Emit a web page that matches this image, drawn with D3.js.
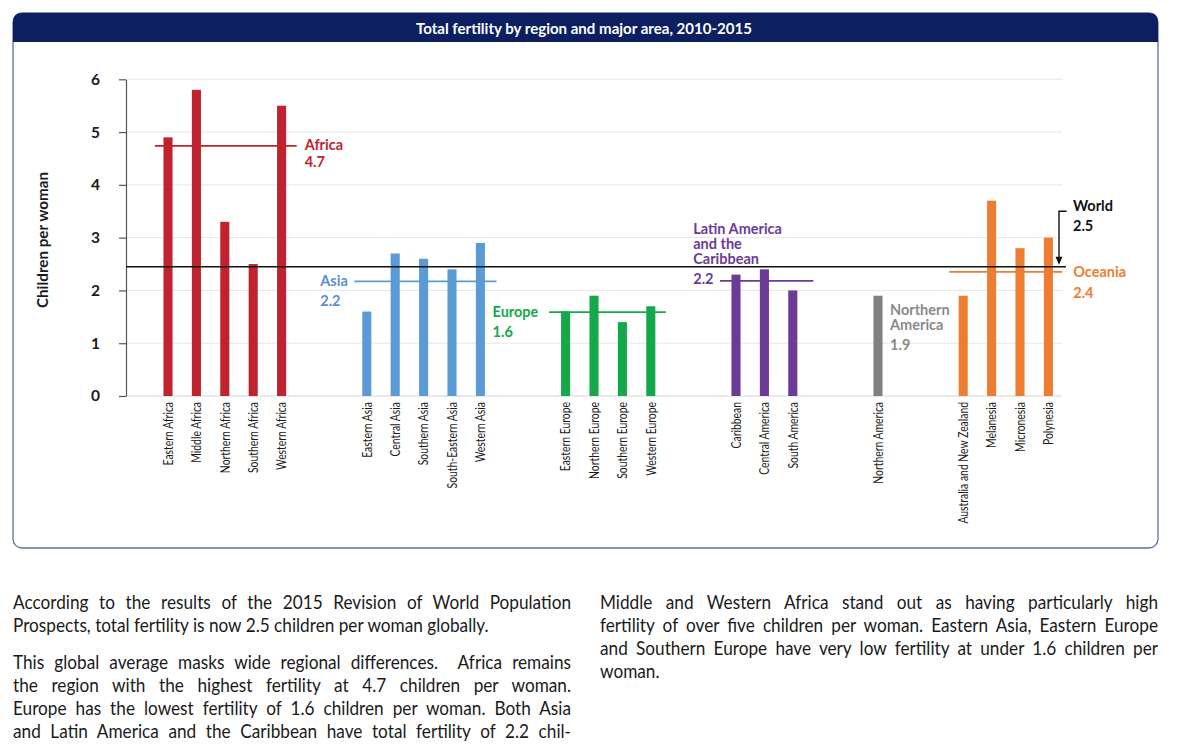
<!DOCTYPE html>
<html>
<head>
<meta charset="utf-8">
<script src="https://cdn.jsdelivr.net/npm/d3@7"></script>
<style>
  html, body { margin: 0; padding: 0; background: #fff; }
  svg { display: block; }
</style>
</head>
<body>
<svg id="chart" width="1200" height="750"></svg>
<script>
// ---------------- DATA ----------------
const title = "Total fertility by region and major area, 2010-2015";
const yAxisTitle = "Children per woman";
const yTicks = [0, 1, 2, 3, 4, 5, 6];

const categories = [
  "Eastern Africa", "Middle Africa", "Northern Africa", "Southern Africa", "Western Africa",
  "Eastern Asia", "Central Asia", "Southern Asia", "South-Eastern Asia", "Western Asia",
  "Eastern Europe", "Northern Europe", "Southern Europe", "Western Europe",
  "Caribbean", "Central America", "South America",
  "Northern America",
  "Australia and New Zealand", "Melanesia", "Micronesia", "Polynesia"
];
const categoryGroup = [
  "Africa", "Africa", "Africa", "Africa", "Africa",
  "Asia", "Asia", "Asia", "Asia", "Asia",
  "Europe", "Europe", "Europe", "Europe",
  "Latin America and the Caribbean", "Latin America and the Caribbean", "Latin America and the Caribbean",
  "Northern America",
  "Oceania", "Oceania", "Oceania", "Oceania"
];
const fertility = [
  4.9, 5.8, 3.3, 2.5, 5.5,
  1.6, 2.7, 2.6, 2.4, 2.9,
  1.6, 1.9, 1.4, 1.7,
  2.3, 2.4, 2.0,
  1.9,
  1.9, 3.7, 2.8, 3.0
];

const groups = ["Africa", "Asia", "Europe", "Latin America and the Caribbean", "Northern America", "Oceania"];
const groupLabelLines = [["Africa"], ["Asia"], ["Europe"], ["Latin America", "and the", "Caribbean"], ["Northern", "America"], ["Oceania"]];
const groupAverage = [4.74, 2.17, 1.59, 2.18, 1.9, 2.35];
const groupAverageLabel = ["4.7", "2.2", "1.6", "2.2", "1.9", "2.4"];
const groupHasLine = [true, true, true, true, false, true];

const worldName = "World";
const worldAverage = 2.45;
const worldAverageLabel = "2.5";

const leftColumnParagraphs = [
  ["According to the results of the 2015 Revision of World Population",
   "Prospects, total fertility is now 2.5 children per woman globally."],
  ["This global average masks wide regional differences.  Africa remains",
   "the region with the highest fertility at 4.7 children per woman.",
   "Europe has the lowest fertility of 1.6 children per woman. Both Asia",
   "and Latin America and the Caribbean have total fertility of 2.2 chil-"]
];
const leftParagraphEnds = [true, false];
const rightColumnParagraphs = [
  ["Middle and Western Africa stand out as having particularly high",
   "fertility of over five children per woman. Eastern Asia, Eastern Europe",
   "and Southern Europe have very low fertility at under 1.6 children per",
   "woman."]
];
const rightParagraphEnds = [true];

// ---------------- STYLE / LAYOUT ----------------
const groupColor = {
  "Africa": "#c1232e",
  "Asia": "#5b9bd5",
  "Europe": "#14a84a",
  "Latin America and the Caribbean": "#6c3a97",
  "Northern America": "#808080",
  "Oceania": "#ee7d31"
};
const groupTextColor = {
  "Africa": "#c1232e",
  "Asia": "#5b8fd0",
  "Europe": "#14a84a",
  "Latin America and the Caribbean": "#6c3a97",
  "Northern America": "#8a8a8a",
  "Oceania": "#ee7d31"
};
const groupLayout = {
  "Africa": { padL: 8.5, padR: 10.5, labelRef: "right", dx: 8, dys: [4.5, 21] },
  "Asia": { padL: 8, padR: 11.5, labelRef: "left", dx: -34, dys: [4.5, 24.5] },
  "Europe": { padL: 12, padR: 10.5, labelRef: "left", dx: -56.5, dys: [5.3, 25.3] },
  "Latin America and the Caribbean": { padL: 11.5, padR: 16, labelRef: "left", dx: -26.7, dys: [-46.7, -31.7, -16.7, 3] },
  "Northern America": { padL: 0, padR: 0, labelRef: "barRight", dx: 7.5, dys: [19.3, 34.3, 54.3] },
  "Oceania": { padL: 9.5, padR: 9.3, labelRef: "right", dx: 11, dys: [5.3, 26.3] }
};

const frame = { x: 13, y: 13, w: 1145, h: 535, r: 9, titleH: 29 };
const plot = { left: 126, right: 1062, top: 79.3, bottom: 396 };

const svg = d3.select("#chart");
svg.append("rect").attr("width", 1200).attr("height", 750).attr("fill", "#fff");

// Frame
svg.append("rect")
  .attr("x", frame.x).attr("y", frame.y).attr("width", frame.w).attr("height", frame.h)
  .attr("rx", frame.r).attr("ry", frame.r)
  .attr("fill", "#fff").attr("stroke", "#5a72a6").attr("stroke-width", 1.3);
const tb = frame, r = frame.r;
svg.append("path")
  .attr("d", `M${tb.x},${tb.y + tb.titleH} V${tb.y + r} Q${tb.x},${tb.y} ${tb.x + r},${tb.y} H${tb.x + tb.w - r} Q${tb.x + tb.w},${tb.y} ${tb.x + tb.w},${tb.y + r} V${tb.y + tb.titleH} Z`)
  .attr("fill", "#0b1f61");
svg.append("text")
  .attr("x", 584).attr("y", 34)
  .attr("text-anchor", "middle")
  .attr("fill", "#fff")
  .attr("font-family", "Lato, 'Liberation Sans', sans-serif")
  .attr("font-weight", 700)
  .attr("font-size", 15)
  .attr("textLength", 336)
  .attr("lengthAdjust", "spacingAndGlyphs")
  .text(title);

// ---------------- SCALES ----------------
const domain = [];
categories.forEach((c, i) => {
  if (i > 0 && categoryGroup[i] !== categoryGroup[i - 1]) {
    domain.push("__gap" + i + "a", "__gap" + i + "b");
  }
  domain.push(c);
});
const x = d3.scaleBand()
  .domain(domain)
  .range([153.8, 1062.6])
  .paddingInner(0.68)
  .paddingOuter(0.34);
const y = d3.scaleLinear().domain([0, 6]).range([plot.bottom, plot.top]);

// Gridlines
svg.append("g").selectAll("line")
  .data(yTicks)
  .join("line")
  .attr("x1", plot.left).attr("x2", plot.right)
  .attr("y1", d => y(d)).attr("y2", d => y(d))
  .attr("stroke", d => d === 0 ? "#d4d4d4" : "#e6e6e6")
  .attr("stroke-width", 1);

// Y axis
const yAxis = svg.append("g")
  .attr("transform", `translate(${plot.left},0)`)
  .call(d3.axisLeft(y).tickValues(yTicks).tickSize(7).tickSizeOuter(0).tickPadding(19).tickFormat(d3.format("d")));
yAxis.select(".domain").attr("stroke", "#555").attr("stroke-width", 1.2);
yAxis.selectAll(".tick line").attr("stroke", "#555").attr("stroke-width", 1.2);
yAxis.selectAll(".tick text")
  .attr("font-family", "Lato, 'Liberation Sans', sans-serif")
  .attr("font-weight", 700)
  .attr("font-size", 15.5)
  .attr("fill", "#1a1a1a");

svg.append("text")
  .attr("transform", `translate(48,240) rotate(-90)`)
  .attr("text-anchor", "middle")
  .attr("font-family", "Lato, 'Liberation Sans', sans-serif")
  .attr("font-weight", 700)
  .attr("font-size", 15)
  .attr("fill", "#1a1a1a")
  .attr("textLength", 136)
  .attr("lengthAdjust", "spacingAndGlyphs")
  .text(yAxisTitle);

// Bars
const barData = categories.map((c, i) => ({ name: c, group: categoryGroup[i], value: fertility[i] }));
svg.append("g").selectAll("rect")
  .data(barData)
  .join("rect")
  .attr("x", d => x(d.name))
  .attr("width", x.bandwidth())
  .attr("y", d => y(d.value))
  .attr("height", d => y(0) - y(d.value))
  .attr("fill", d => groupColor[d.group]);

// X labels (condensed along the text direction)
svg.append("g").selectAll("text")
  .data(barData)
  .join("text")
  .attr("transform", d => `translate(${x(d.name) + x.bandwidth() / 2 + 4.8},402) rotate(-90) scale(0.77,1)`)
  .attr("text-anchor", "end")
  .attr("font-family", "Lato, 'Liberation Sans', sans-serif")
  .attr("font-size", 13.5)
  .attr("fill", "#1a1a1a")
  .text(d => d.name);

// World line
svg.append("line")
  .attr("x1", plot.left).attr("x2", 1066)
  .attr("y1", y(worldAverage)).attr("y2", y(worldAverage))
  .attr("stroke", "#111").attr("stroke-width", 1.6);

// Group average lines and labels
const labelFont = "Lato, 'Liberation Sans', sans-serif";
groups.forEach((g, gi) => {
  const members = categories.filter((c, i) => categoryGroup[i] === g);
  const first = members[0], last = members[members.length - 1];
  const L = groupLayout[g];
  const x0 = x(first) - L.padL;
  const x1 = x(last) + x.bandwidth() + L.padR;
  const ly = y(groupAverage[gi]);
  if (groupHasLine[gi]) {
    svg.append("line")
      .attr("x1", x0).attr("x2", x1)
      .attr("y1", ly).attr("y2", ly)
      .attr("stroke", groupColor[g]).attr("stroke-width", 1.8);
  }
  let ax;
  if (L.labelRef === "right") ax = x1 + L.dx;
  else if (L.labelRef === "left") ax = x0 + L.dx;
  else ax = x(last) + x.bandwidth() + L.dx;
  const lines = groupLabelLines[gi].concat([groupAverageLabel[gi]]);
  lines.forEach((t, li) => {
    svg.append("text")
      .attr("x", ax).attr("y", ly + L.dys[li])
      .attr("font-family", labelFont)
      .attr("font-weight", 700)
      .attr("font-size", 14.5)
      .attr("fill", groupTextColor[g])
      .text(t);
  });
});

// World label + bracket arrow
const wy = y(worldAverage);
svg.append("text").attr("x", 1073).attr("y", wy - 56)
  .attr("font-family", labelFont).attr("font-weight", 700).attr("font-size", 14.5).attr("fill", "#111").text(worldName);
svg.append("text").attr("x", 1073).attr("y", wy - 36)
  .attr("font-family", labelFont).attr("font-weight", 700).attr("font-size", 14.5).attr("fill", "#111").text(worldAverageLabel);
svg.append("path")
  .attr("d", `M1066.5,${wy - 55.5} H1059 V${wy - 9}`)
  .attr("fill", "none").attr("stroke", "#111").attr("stroke-width", 1.4);
svg.append("path")
  .attr("d", `M1055.5,${wy - 10} L1062.5,${wy - 10} L1059,${wy - 2} Z`)
  .attr("fill", "#111");

// ---------------- BODY TEXT (justified via word spacing) ----------------
const bodyFont = "Lato, 'Liberation Sans', sans-serif";
const bodySize = 18.5;
const glyphScale = 0.93;
function drawColumn(paragraphs, ends, x0, width, baselines) {
  let k = 0;
  paragraphs.forEach((p, pi) => {
    p.forEach((line, li) => {
      const isLast = li === p.length - 1 && ends[pi];
      const t = svg.append("text")
        .attr("transform", `translate(${x0},${baselines[k]}) scale(${glyphScale},1)`)
        .attr("font-family", bodyFont)
        .attr("font-size", bodySize)
        .attr("fill", "#1a1a1a")
        .attr("xml:space", "preserve")
        .style("white-space", "pre")
        .text(line);
      if (!isLast) {
        const natural = t.node().getComputedTextLength();
        const spaces = (line.match(/ /g) || []).length;
        const extra = (width / glyphScale - natural) / spaces;
        t.attr("word-spacing", extra);
      }
      k++;
    });
  });
}
drawColumn(leftColumnParagraphs, leftParagraphEnds, 13, 558, [608.5, 631.5, 669, 692, 715, 738]);
drawColumn(rightColumnParagraphs, rightParagraphEnds, 600, 558, [608.5, 631.5, 654.5, 677.5]);
</script>
</body>
</html>
